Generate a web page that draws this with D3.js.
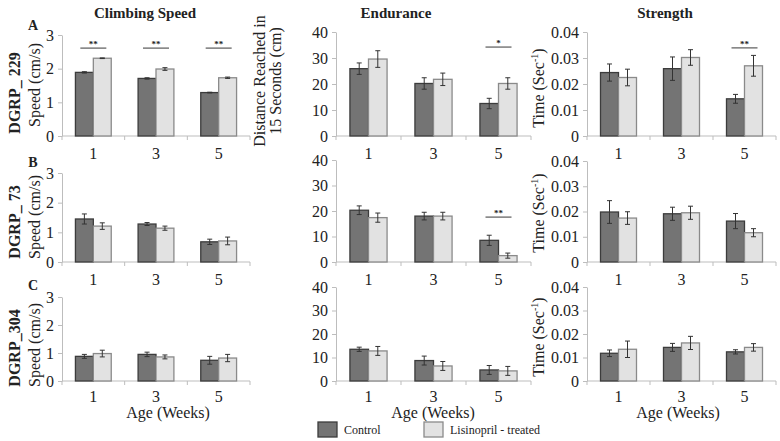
<!DOCTYPE html>
<html>
<head>
<meta charset="utf-8">
<script src="https://cdn.jsdelivr.net/npm/d3@7"></script>
<style>
  body { margin: 0; background: #fff; }
</style>
</head>
<body>
<script>
// categories
var ages = ["1", "3", "5"];
var series = ["Control", "Lisinopril - treated"];
var strains = ["DGRP_ 229", "DGRP_ 73", "DGRP_304"];
var measures = ["Climbing Speed", "Endurance", "Strength"];
var rowLetters = ["A", "B", "C"];

// tick labels
var speedTicks = [0, 1, 2, 3];
var enduranceTicks = [0, 10, 20, 30, 40];
var strengthTicks = [0, 0.01, 0.02, 0.03, 0.04];

// values, one row per strain (229, 73, 304), one entry per age
var speedControl = [[1.89, 1.71, 1.29], [1.45, 1.28, 0.68], [0.88, 0.95, 0.74]];
var speedTreated = [[2.31, 1.99, 1.73], [1.21, 1.14, 0.71], [0.98, 0.86, 0.82]];
var speedControlErr = [[0.02, 0.02, 0.01], [0.17, 0.05, 0.09], [0.07, 0.08, 0.14]];
var speedTreatedErr = [[0.01, 0.04, 0.02], [0.11, 0.07, 0.13], [0.12, 0.07, 0.13]];

var enduranceControl = [[25.9, 20.2, 12.5], [20.3, 18.0, 8.5], [13.5, 8.7, 4.7]];
var enduranceTreated = [[29.6, 21.8, 20.2], [17.4, 18.0, 2.5], [12.8, 6.4, 4.3]];
var enduranceControlErr = [[2.2, 2.2, 2.0], [1.7, 1.5, 2.0], [0.9, 1.9, 1.9]];
var enduranceTreatedErr = [[3.2, 2.4, 2.2], [1.8, 1.5, 1.0], [1.9, 1.9, 1.9]];

var strengthControl = [[0.0244, 0.0259, 0.0143], [0.0198, 0.0191, 0.0162], [0.0118, 0.0143, 0.0124]];
var strengthTreated = [[0.0225, 0.0302, 0.0270], [0.0174, 0.0195, 0.0116], [0.0135, 0.0162, 0.0143]];
var strengthControlErr = [[0.0033, 0.0045, 0.0017], [0.0045, 0.0026, 0.0030], [0.0014, 0.0017, 0.0009]];
var strengthTreatedErr = [[0.0032, 0.0030, 0.0040], [0.0025, 0.0026, 0.0016], [0.0035, 0.0028, 0.0016]];

// significance marks: [row, column, age, level in data units, label]
var sigMarks = [
  [0, 0, "1", 2.61, "**"], [0, 0, "3", 2.61, "**"], [0, 0, "5", 2.61, "**"],
  [0, 1, "5", 34.2, "*"],
  [0, 2, "5", 0.0339, "**"],
  [1, 1, "5", 17.6, "**"]
];

var w = 780, h = 441;
var serif = "'Liberation Serif', 'Times New Roman', serif";
var colors = { fill: ["#747474", "#e2e2e2"], stroke: ["#3c3c3c", "#8a8a8a"] };

// panel layout
var colRange = [[62, 250], [336, 531], [587, 776]];
var rowZero = [136, 262, 381];
var rowTop = [[35, 173, 297], [32, 160, 287], [32, 161, 287]];

var panels = [
  { ticks: speedTicks, c: speedControl, t: speedTreated, ce: speedControlErr, te: speedTreatedErr },
  { ticks: enduranceTicks, c: enduranceControl, t: enduranceTreated, ce: enduranceControlErr, te: enduranceTreatedErr },
  { ticks: strengthTicks, c: strengthControl, t: strengthTreated, ce: strengthControlErr, te: strengthTreatedErr }
];

var svg = d3.select("body").append("svg")
    .attr("width", w)
    .attr("height", h);

panels.forEach(function(p, col) {
  strains.forEach(function(strain, row) {
    var x = d3.scaleBand().domain(ages).range(colRange[col]);
    var xs = d3.scaleBand().domain(series).range([0, x.bandwidth()]).paddingOuter(0.75);
    var y = d3.scaleLinear()
        .domain([0, d3.max(p.ticks)])
        .range([rowZero[row], rowTop[col][row]]);

    var g = svg.append("g");

    // y axis
    var ya = g.append("g")
        .attr("transform", "translate(" + colRange[col][0] + ",0)")
        .call(d3.axisLeft(y).tickValues(p.ticks).tickFormat(function(d) { return String(d); })
          .tickSize(4).tickSizeOuter(0).tickPadding(4));
    ya.selectAll("path, line").attr("stroke", "#bdbdbd");
    ya.selectAll("text").attr("font-size", 16).attr("fill", "#333");

    // x axis line and boundary ticks
    g.append("line")
        .attr("x1", colRange[col][0]).attr("x2", colRange[col][1])
        .attr("y1", y(0)).attr("y2", y(0))
        .attr("stroke", "#bdbdbd");
    g.selectAll(".bt")
        .data(ages.map(function(a) { return x(a); }).concat([colRange[col][1]]))
      .enter().append("line")
        .attr("x1", function(d) { return d; }).attr("x2", function(d) { return d; })
        .attr("y1", y(0)).attr("y2", y(0) + 4)
        .attr("stroke", "#bdbdbd");
    g.selectAll(".xl")
        .data(ages)
      .enter().append("text")
        .attr("x", function(d) { return x(d) + x.bandwidth() / 2; })
        .attr("y", y(0) + (row === 2 ? 21 : 23))
        .attr("text-anchor", "middle")
        .attr("font-size", 16)
        .text(function(d) { return d; });

    // bars
    var vals = [];
    ages.forEach(function(a, i) {
      vals.push({ age: a, s: 0, v: p.c[row][i], e: p.ce[row][i] });
      vals.push({ age: a, s: 1, v: p.t[row][i], e: p.te[row][i] });
    });
    g.selectAll(".bar")
        .data(vals)
      .enter().append("rect")
        .attr("x", function(d) { return x(d.age) + xs(series[d.s]); })
        .attr("y", function(d) { return y(d.v); })
        .attr("width", xs.bandwidth())
        .attr("height", function(d) { return y(0) - y(d.v); })
        .attr("fill", function(d) { return colors.fill[d.s]; })
        .attr("stroke", function(d) { return colors.stroke[d.s]; })
        .attr("stroke-width", 1.3);

    // error bars
    var eb = g.selectAll(".err")
        .data(vals)
      .enter().append("g")
        .attr("transform", function(d) {
          return "translate(" + (x(d.age) + xs(series[d.s]) + xs.bandwidth() / 2) + ",0)";
        });
    eb.append("line")
        .attr("y1", function(d) { return y(d.v - d.e); })
        .attr("y2", function(d) { return y(d.v + d.e); })
        .attr("stroke", "#333");
    eb.selectAll(".cap")
        .data(function(d) { return [d.v - d.e, d.v + d.e]; })
      .enter().append("line")
        .attr("x1", -2.5).attr("x2", 2.5)
        .attr("y1", function(d) { return y(d); })
        .attr("y2", function(d) { return y(d); })
        .attr("stroke", "#333");

    // significance
    sigMarks.filter(function(m) { return m[0] === row && m[1] === col; }).forEach(function(m) {
      var cx = x(m[2]) + x.bandwidth() / 2;
      g.append("line")
          .attr("x1", cx - 13).attr("x2", cx + 13)
          .attr("y1", y(m[3])).attr("y2", y(m[3]))
          .attr("stroke", "#7a7a7a").attr("stroke-width", 1.5);
      g.append("text")
          .attr("x", cx).attr("y", y(m[3]) - 1)
          .attr("text-anchor", "middle")
          .attr("font-size", 9).attr("font-weight", "bold")
          .text(m[4]);
    });
  });
});

// column titles
var titleX = [145, 396, 665];
measures.forEach(function(m, i) {
  svg.append("text")
      .attr("x", titleX[i]).attr("y", 18)
      .attr("text-anchor", "middle")
      .attr("font-size", 15).attr("font-weight", "bold")
      .text(m);
});

// row letters and strain names
var letterY = [30, 167, 290];
var strainY = [93, 222, 348];
var speedLabelY = [85, 217, 345];
rowLetters.forEach(function(l, i) {
  svg.append("text")
      .attr("x", 33).attr("y", letterY[i])
      .attr("text-anchor", "middle")
      .attr("font-size", 14).attr("font-weight", "bold")
      .text(l);
  svg.append("text")
      .attr("transform", "translate(20," + strainY[i] + ")rotate(-90)")
      .attr("text-anchor", "middle")
      .attr("font-size", 16).attr("font-weight", "bold")
      .text(strains[i]);
  svg.append("text")
      .attr("transform", "translate(40," + speedLabelY[i] + ")rotate(-90)")
      .attr("text-anchor", "middle")
      .attr("font-size", 16)
      .text("Speed (cm/s)");
});

// endurance y label (top row only)
svg.append("text")
    .attr("transform", "translate(265,81)rotate(-90)")
    .attr("text-anchor", "middle")
    .attr("font-size", 16)
    .text("Distance Reached in");
svg.append("text")
    .attr("transform", "translate(281,81)rotate(-90)")
    .attr("text-anchor", "middle")
    .attr("font-size", 16)
    .text("15 Seconds (cm)");

// strength y labels
var timeY = [88, 213, 337];
timeY.forEach(function(ty) {
  var t = svg.append("text")
      .attr("transform", "translate(544," + ty + ")rotate(-90)")
      .attr("text-anchor", "middle")
      .attr("font-size", 16);
  t.append("tspan").text("Time (Sec");
  t.append("tspan").attr("font-size", 10).attr("dy", -6).text("-1");
  t.append("tspan").attr("dy", 6).text(")");
});

// age axis titles
var ageX = [168, 433, 678];
ageX.forEach(function(ax) {
  svg.append("text")
      .attr("x", ax).attr("y", 418)
      .attr("text-anchor", "middle")
      .attr("font-size", 16)
      .text("Age (Weeks)");
});

// legend
var legendX = [318, 424];
series.forEach(function(s, i) {
  svg.append("rect")
      .attr("x", legendX[i]).attr("y", 422)
      .attr("width", 19).attr("height", 15)
      .attr("fill", colors.fill[i])
      .attr("stroke", colors.stroke[i])
      .attr("stroke-width", 1.3);
  svg.append("text")
      .attr("x", legendX[i] + 26).attr("y", 434)
      .attr("font-size", 12)
      .text(s);
});

// serif everywhere
svg.selectAll("text").style("font-family", serif).style("fill", "#222");
</script>
</body>
</html>
